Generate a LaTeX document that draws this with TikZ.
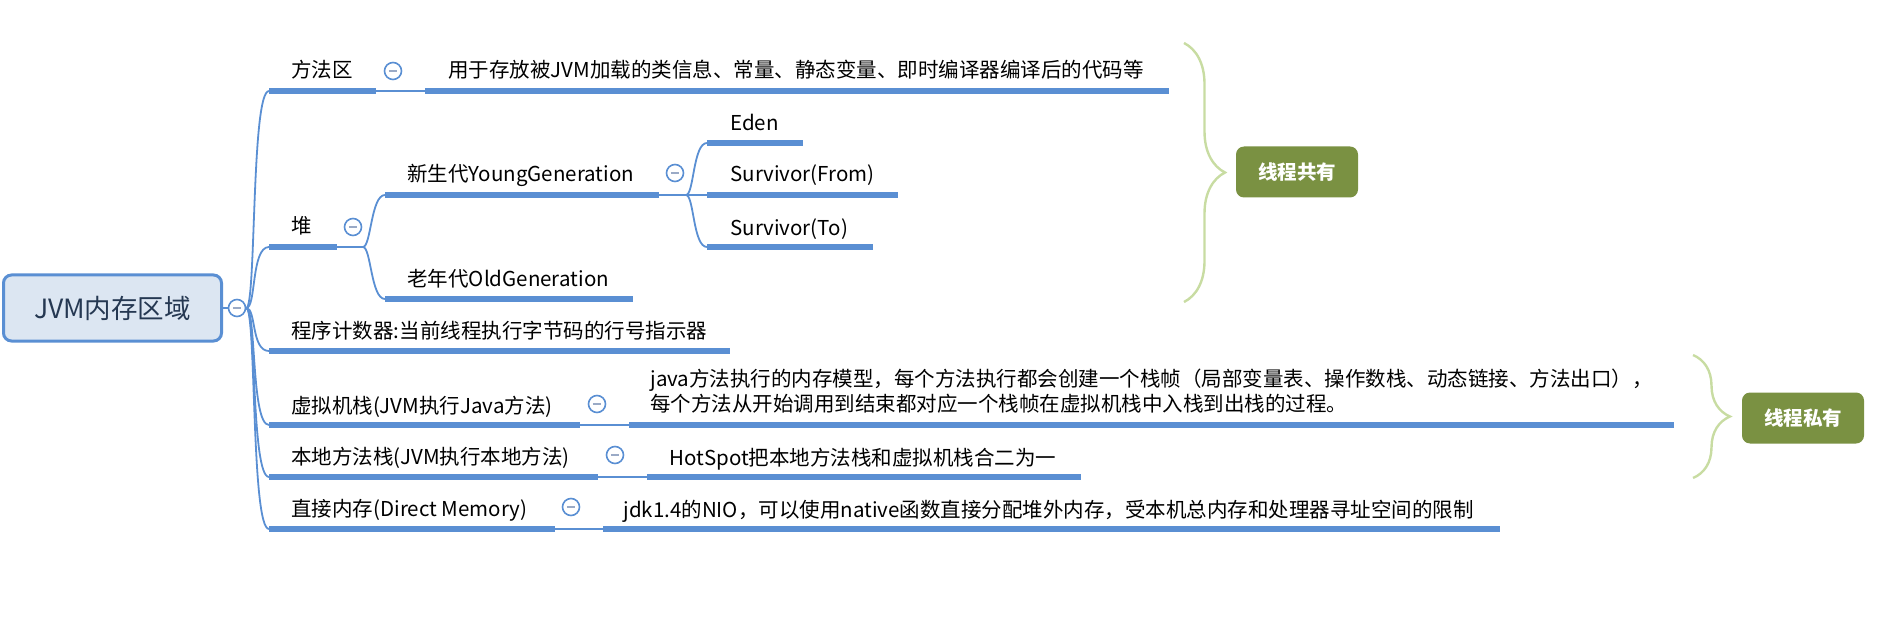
\documentclass[tikz,border=0pt]{standalone}
\usepackage{fontspec}
\setmainfont{Noto Sans CJK SC}
\usetikzlibrary{decorations.pathreplacing}

\definecolor{mapblue}{HTML}{5A8FD3}
\definecolor{rootfill}{HTML}{DCE6F2}
\definecolor{roottext}{HTML}{253852}
\definecolor{tagolive}{HTML}{7A9142}
\definecolor{bracegreen}{HTML}{C8DCA2}
\definecolor{foldminus}{HTML}{9AAAC6}

\begin{document}
\begin{tikzpicture}[x=0.5pt,y=-0.5pt,
    root/.style={draw=mapblue,fill=rootfill,line width=1.5pt,rounded corners=4pt,
      minimum width=109pt,minimum height=33pt,inner sep=0pt,text=roottext,
      font=\fontsize{13.25}{16}\selectfont},
    topic/.style={anchor=base west,inner sep=0pt,align=left,
      font=\fontsize{10.25}{9.75}\selectfont},
    uline/.style={mapblue,line width=2.6pt},
    branch/.style={mapblue,line width=0.9pt},
    fold/.style={circle,draw=mapblue,fill=white,line width=0.8pt,minimum size=8.5pt,inner sep=0pt,
      path picture={\draw[foldminus,line width=1pt]
        ([xshift=-2.1pt]path picture bounding box.center) -- ([xshift=2.1pt]path picture bounding box.center);}},
    tag/.style={fill=tagolive,rounded corners=4pt,text=white,minimum width=61pt,minimum height=25.5pt,
      inner sep=0pt,font=\fontsize{9.75}{12}\selectfont\bfseries},
    curly/.style={bracegreen,line width=1.2pt,decorate,decoration={brace,amplitude=#1}}]

\useasboundingbox (0,0) rectangle (1884,620);

% root
\node[root] (jvm) at (112.5,308) {JVM内存区域};
\node[fold] (jvmfold) at (237,308) {};
\draw[branch] (jvm) -- (jvmfold);

% method area
\node[topic] (fangfa) at (291,78) {方法区};
\draw[uline] (269,91) coordinate (fangfaL) -- (376,91) coordinate (fangfaR);
\node[fold] (fangfafold) at (393,71) {};
\node[topic] (fangfadesc) at (448,78) {用于存放被JVM加载的类信息、常量、静态变量、即时编译器编译后的代码等};
\draw[uline] (425,91) coordinate (fangfadescL) -- (1169,91);
\draw[branch] (fangfaR) -- (fangfadescL);

% heap
\node[topic] (dui) at (291,234) {堆};
\draw[uline] (269,247) coordinate (duiL) -- (337,247) coordinate (duiR);
\node[fold] (duifold) at (353,227) {};
\coordinate (duisplit) at (363,247);

\node[topic] (young) at (407,182) {新生代YoungGeneration};
\draw[uline] (385,195) coordinate (youngL) -- (659,195) coordinate (youngR);
\node[fold] (youngfold) at (675,173) {};
\coordinate (youngsplit) at (686,195);

\node[topic] (eden) at (730,131) {Eden};
\draw[uline] (707,143) coordinate (edenL) -- (803,143);
\node[topic] (sfrom) at (730,182) {Survivor(From)};
\draw[uline] (707,195) coordinate (sfromL) -- (898,195);
\node[topic] (sto) at (730,235) {Survivor(To)};
\draw[uline] (707,247) coordinate (stoL) -- (873,247);

\node[topic] (old) at (407,286) {老年代OldGeneration};
\draw[uline] (385,299) coordinate (oldL) -- (633,299);

% program counter
\node[topic] (pc) at (291,338) {程序计数器:当前线程执行字节码的行号指示器};
\draw[uline] (269,351) coordinate (pcL) -- (730,351);

% vm stack
\node[topic] (vmstack) at (291,413) {虚拟机栈(JVM执行Java方法)};
\draw[uline] (269,425) coordinate (vmstackL) -- (580,425) coordinate (vmstackR);
\node[fold] (vmstackfold) at (597,404) {};
\node[topic] (vmstackdesc) at (650,411) {java方法执行的内存模型，每个方法执行都会创建一个栈帧（局部变量表、操作数栈、动态链接、方法出口），\\每个方法从开始调用到结束都对应一个栈帧在虚拟机栈中入栈到出栈的过程。};
\draw[uline] (629,425) coordinate (vmstackdescL) -- (1674,425);

% native stack
\node[topic] (native) at (291,464) {本地方法栈(JVM执行本地方法)};
\draw[uline] (269,477) coordinate (nativeL) -- (598,477) coordinate (nativeR);
\node[fold] (nativefold) at (615,455) {};
\node[topic] (nativedesc) at (669,465) {HotSpot把本地方法栈和虚拟机栈合二为一};
\draw[uline] (647,477) coordinate (nativedescL) -- (1081,477);

% direct memory
\node[topic] (direct) at (291,516) {直接内存(Direct Memory)};
\draw[uline] (269,529) coordinate (directL) -- (555,529) coordinate (directR);
\node[fold] (directfold) at (571,507) {};
\node[topic] (directdesc) at (623,517) {jdk1.4的NIO，可以使用native函数直接分配堆外内存，受本机总内存和处理器寻址空间的限制};
\draw[uline] (603,529) coordinate (directdescL) -- (1500,529);

% branches
\draw[branch] (jvmfold.east) .. controls +(10,0) and +(-18,0) .. (fangfaL);
\draw[branch] (jvmfold.east) .. controls +(10,0) and +(-18,0) .. (duiL);
\draw[branch] (jvmfold.east) .. controls +(10,0) and +(-18,0) .. (pcL);
\draw[branch] (jvmfold.east) .. controls +(10,0) and +(-18,0) .. (vmstackL);
\draw[branch] (jvmfold.east) .. controls +(10,0) and +(-18,0) .. (nativeL);
\draw[branch] (jvmfold.east) .. controls +(10,0) and +(-18,0) .. (directL);

\draw[branch] (duiR) -- (duisplit);
\draw[branch] (duisplit) .. controls +(8,0) and +(-14,0) .. (youngL);
\draw[branch] (duisplit) .. controls +(8,0) and +(-14,0) .. (oldL);

\draw[branch] (youngR) -- (youngsplit);
\draw[branch] (youngsplit) .. controls +(8,0) and +(-14,0) .. (edenL);
\draw[branch] (youngsplit) -- (sfromL);
\draw[branch] (youngsplit) .. controls +(8,0) and +(-14,0) .. (stoL);

\draw[branch] (vmstackR) -- (vmstackdescL);
\draw[branch] (nativeR) -- (nativedescL);
\draw[branch] (directR) -- (directdescL);

% thread shared / private
\coordinate (sharedtop) at (1184,43);
\coordinate (sharedbot) at (1184,302);
\draw[curly=20.5pt] (sharedtop) -- (sharedbot);
\node[tag] (shared) at (1297,172) {线程共有};

\coordinate (privatetop) at (1693,355);
\coordinate (privatebot) at (1693,478);
\draw[curly=18.5pt] (privatetop) -- (privatebot);
\node[tag] (private) at (1803,418) {线程私有};
\end{tikzpicture}
\end{document}
